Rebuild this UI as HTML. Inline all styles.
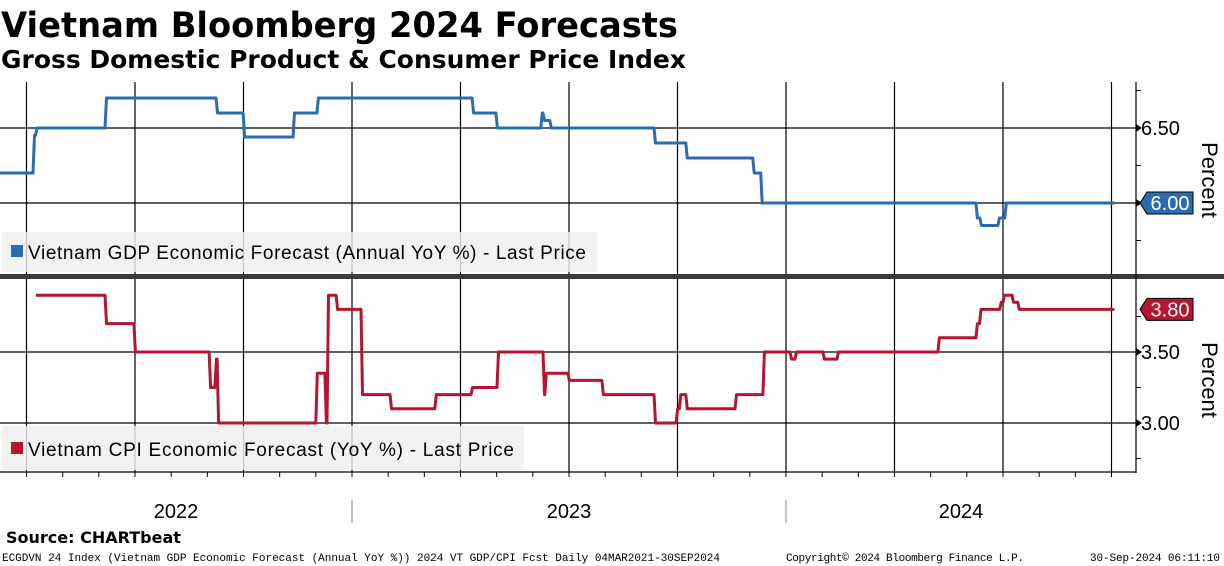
<!DOCTYPE html>
<html><head><meta charset="utf-8"><style>
html,body{margin:0;padding:0;background:#fff;}
svg{display:block;font-family:"DejaVu Sans","Liberation Sans",sans-serif;}
</style></head><body>
<svg id="c" width="1224" height="566" viewBox="0 0 1224 566">
<text x="1" y="37" font-size="35" font-weight="bold" textLength="677" lengthAdjust="spacingAndGlyphs">Vietnam Bloomberg 2024 Forecasts</text>
<text x="1" y="68" font-size="25" font-weight="bold" textLength="685" lengthAdjust="spacingAndGlyphs">Gross Domestic Product &amp; Consumer Price Index</text>
<g id="grid"></g>
<rect x="0" y="274" width="1224" height="5" fill="#3a3a3a"/>
<g id="series"></g>
<g id="axes"></g>
<rect x="2" y="232" width="595" height="40" fill="#efefef" opacity="0.82"/>
<rect x="11" y="245" width="12" height="12" fill="#2b6cb0"/>
<text x="28" y="259" font-size="19" font-family="Liberation Sans, sans-serif" textLength="558">Vietnam GDP Economic Forecast (Annual YoY %) - Last Price</text>
<rect x="2" y="426" width="522" height="44" fill="#efefef" opacity="0.82"/>
<rect x="11" y="442" width="12" height="12" fill="#b5152e"/>
<text x="28" y="456" font-size="19" font-family="Liberation Sans, sans-serif" textLength="486">Vietnam CPI Economic Forecast (YoY %) - Last Price</text>
<text x="1202" y="180" font-size="22" font-family="Liberation Sans, sans-serif" text-anchor="middle" transform="rotate(90 1202 180)">Percent</text>
<text x="1202" y="380" font-size="22" font-family="Liberation Sans, sans-serif" text-anchor="middle" transform="rotate(90 1202 380)">Percent</text>
<text x="6" y="543" font-size="16" font-weight="bold">Source: CHARTbeat</text>
<text x="2" y="561" font-size="11" font-family="Liberation Mono, monospace" textLength="718">ECGDVN 24 Index (Vietnam GDP Economic Forecast (Annual YoY %)) 2024 VT GDP/CPI Fcst  Daily 04MAR2021-30SEP2024</text>
<text x="786" y="561" font-size="11" font-family="Liberation Mono, monospace" textLength="238">Copyright© 2024 Bloomberg Finance L.P.</text>
<text x="1090" y="561" font-size="11" font-family="Liberation Mono, monospace" textLength="130">30-Sep-2024 06:11:10</text>
</svg>
<script>
// months since Jan 2022 (step-after), values in percent
const gdpMonths = [2.2,3.18,3.25,5.17,8.24,8.99,10.37,11.03,15.32,15.98,17.22,17.28,17.47,20.35,21.23,23.08,23.3,29.25,29.36,29.86,30.05,33.04];
const gdpValues = [6.2,6.45,6.5,6.7,6.6,6.44,6.6,6.7,6.6,6.5,6.6,6.55,6.5,6.4,6.3,6.2,6.0,5.9,5.85,5.9,6.0,6.0];
const cpiMonths = [3.26,5.17,5.97,8.05,8.21,8.27,11.0,11.25,11.31,11.56,12.25,13.05,14.29,15.29,16.01,17.28,17.33,17.97,18.91,20.35,20.96,21.05,21.23,22.59,23.36,24.11,24.25,25.02,25.41,28.2,29.25,29.35,29.91,30.0,30.25,30.41,33.04];
const cpiValues = [3.9,3.7,3.5,3.25,3.45,3.0,3.35,3.0,3.9,3.8,3.2,3.1,3.2,3.25,3.5,3.2,3.35,3.3,3.2,3.0,3.1,3.2,3.1,3.2,3.5,3.45,3.5,3.45,3.5,3.6,3.7,3.8,3.85,3.9,3.85,3.8,3.8];
const gdpTicks = [6.5,6.0];
const gdpMinor = [6.75,6.25,5.75];
const cpiTicks = [3.5,3.0];
const cpiMinor = [3.75,3.25,2.75];
const years = ["2022","2023","2024"];
const gdpLast = "6.00", cpiLast = "3.80";

const NS = "http://www.w3.org/2000/svg";
const X = m => -82 + m * 434 / 12;
const Yg = v => 203 - (v - 6.0) * 150;
const Yc = v => 352 - (v - 3.5) * 142;
const R = 1136;
function mk(tag, attrs, parent){const e=document.createElementNS(NS,tag);for(const k in attrs)e.setAttribute(k,attrs[k]);parent.appendChild(e);return e;}
const grid=document.getElementById('grid'), ser=document.getElementById('series'), ax=document.getElementById('axes');

for(let m=3;m<=33;m+=3){const x=X(m);
  const l=mk('line',{x1:x,y1:82,x2:x,y2:472,stroke:'#000','stroke-width':1.2},grid);
  
  }
gdpTicks.forEach(v=>{const l=mk('line',{x1:0,y1:Yg(v),x2:R,y2:Yg(v),stroke:'#000','stroke-width':1.2},grid);
  
  });
cpiTicks.forEach(v=>{const l=mk('line',{x1:0,y1:Yc(v),x2:R,y2:Yc(v),stroke:'#000','stroke-width':1.2},grid);
  
  });

function stepPath(ms,vs,Y){let d='';for(let i=0;i<ms.length;i++){const x=X(ms[i]).toFixed(1),y=Y(vs[i]).toFixed(1);
  if(i===0)d+='M'+x+' '+y;else d+=' L'+x+' '+Y(vs[i-1]).toFixed(1)+' L'+(X(ms[i])+1.5).toFixed(1)+' '+y;}return d;}
const gp=mk('path',{d:stepPath(gdpMonths,gdpValues,Yg),fill:'none',stroke:'#2b6cb0','stroke-width':3,'stroke-linejoin':'round'},ser);


const cp=mk('path',{d:stepPath(cpiMonths,cpiValues,Yc),fill:'none',stroke:'#b5152e','stroke-width':3,'stroke-linejoin':'round'},ser);



const al=mk('line',{x1:R,y1:82,x2:R,y2:473,stroke:'#000','stroke-width':1.2},ax);


const xl=mk('line',{x1:0,y1:472,x2:R,y2:472,stroke:'#000','stroke-width':1.2},ax);


function ytick(y,label,nm){mk('path',{d:`M${R} ${y-4} L${R+6} ${y} L${R} ${y+4}Z`,fill:'#000'},ax);
  const t=mk('text',{x:R+5,y:y+7,'font-size':20,'font-family':'Liberation Sans, sans-serif'},ax);t.textContent=label;
  
  }
gdpTicks.forEach(v=>{if(v!==6.0)ytick(Yg(v),v.toFixed(2),'gdp-tick-label');else mk('path',{d:`M${R} ${Yg(v)-4} L${R+6} ${Yg(v)} L${R} ${Yg(v)+4}Z`},ax);});
cpiTicks.forEach(v=>ytick(Yc(v),v.toFixed(2),'cpi-tick-label'));
gdpMinor.forEach(v=>mk('line',{x1:R,y1:Yg(v),x2:R+5,y2:Yg(v),stroke:'#000'},ax));
cpiMinor.forEach(v=>mk('line',{x1:R,y1:Yc(v),x2:R+5,y2:Yc(v),stroke:'#000'},ax));
function tag(y,label,col,nm){const g=mk('g',{},ax);
  
  
  mk('path',{d:`M${R+4} ${y} L${R+11} ${y-11} L${R+57} ${y-11} L${R+57} ${y+11} L${R+11} ${y+11}Z`,fill:col,stroke:'#000','stroke-width':1},g);
  const t=mk('text',{x:R+34,y:y+7,'font-size':20,'font-family':'Liberation Sans, sans-serif',fill:'#fff','text-anchor':'middle'},g);t.textContent=label;}
tag(Yg(gdpValues[gdpValues.length-1]),gdpLast,'#2b6cb0','gdp-last-value-tag');
tag(Yc(cpiValues[cpiValues.length-1]),cpiLast,'#b5152e','cpi-last-value-tag');

for(let m=3;m<=34;m++){const x=X(m);if(x>R)break;mk('line',{x1:x,y1:472,x2:x,y2:477,stroke:'#000'},ax);}
years.forEach((yr,i)=>{const a=Math.max(0,X(12*i)), b=Math.min(R,X(12*i+12));
  const t=mk('text',{x:(a+b)/2,y:518,'font-size':20,'font-family':'Liberation Sans, sans-serif','text-anchor':'middle'},ax);
  t.textContent=yr;
  
  
  if(i>0){const s=mk('line',{x1:X(12*i),y1:500,x2:X(12*i),y2:523,stroke:'#888'},ax);
    
    }});
</script>
</body></html>
